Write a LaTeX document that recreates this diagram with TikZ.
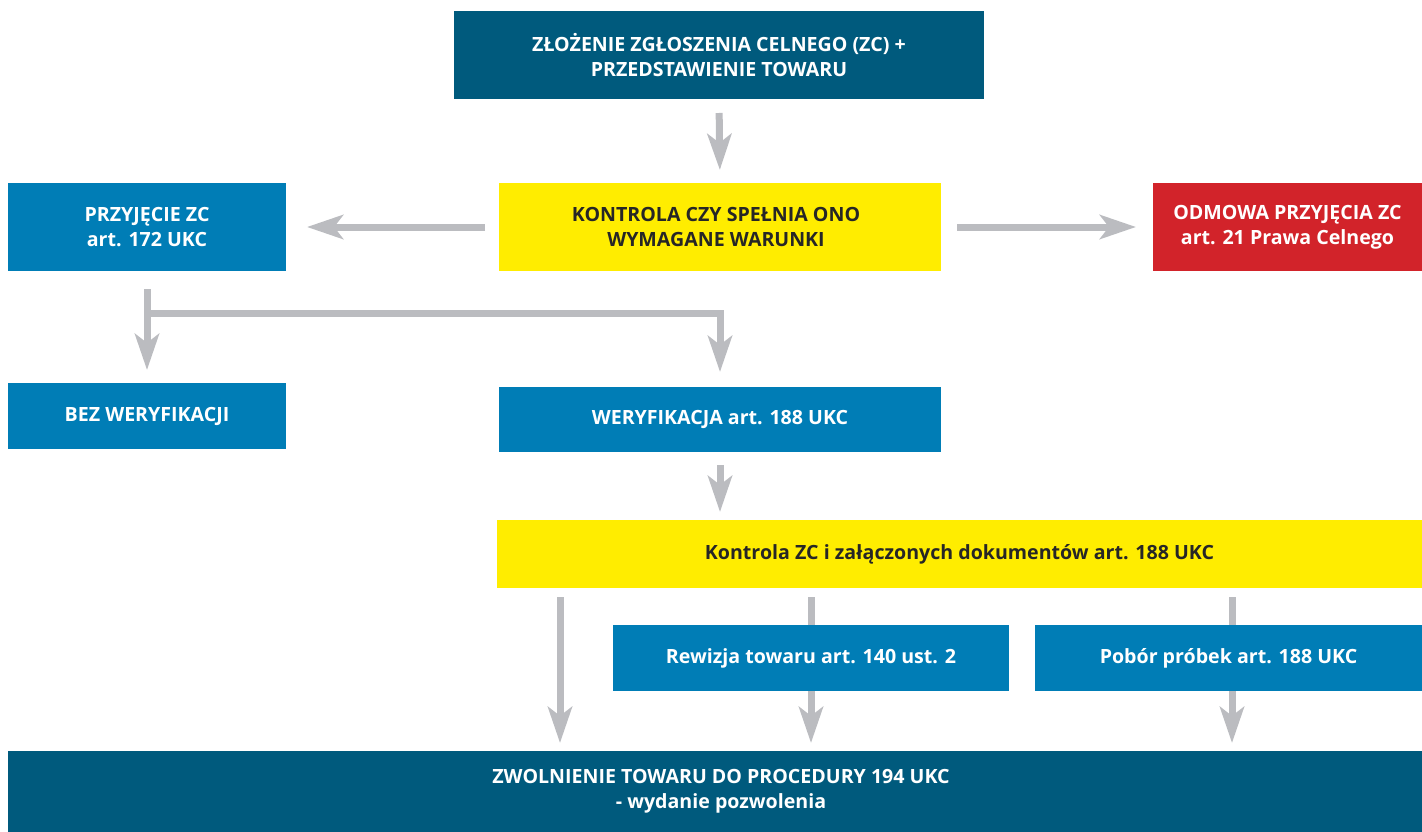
\documentclass[tikz,border=0pt]{standalone}
\usepackage{fontspec}
\setmainfont{Open Sans}
\usetikzlibrary{arrows.meta}
\definecolor{cdark}{RGB}{0,90,125}
\definecolor{cblue}{RGB}{0,125,182}
\definecolor{cyel}{RGB}{255,237,0}
\definecolor{cred}{RGB}{210,35,42}
\definecolor{cgray}{RGB}{187,188,192}
\tikzset{
  blk/.style={rectangle, inner sep=0pt, outer sep=0pt, align=center,
    font=\fontsize{19.6}{25}\selectfont\bfseries},
  wbox/.style={blk, text=white},
  ybox/.style={blk, fill=cyel, text=black!85},
  arr/.style={draw=cgray, line width=7pt,
    -{Stealth[length=36pt, width=24pt, inset=9pt]}},
}
\begin{document}
\begin{tikzpicture}[x=1pt,y=-1pt]
\useasboundingbox (0,0) rectangle (1422,832);
\coordinate (d1) at (560,597);
\coordinate (d2) at (811,597);
\coordinate (d3) at (1232,597);
\node[wbox, fill=cdark, minimum width=530pt, minimum height=88pt] (zc) at (719,55)
  {ZŁOŻENIE ZGŁOSZENIA CELNEGO (ZC) +\\PRZEDSTAWIENIE TOWARU};
\node[wbox, fill=cblue, minimum width=278pt, minimum height=88pt] (prz) at (147,227)
  {PRZYJĘCIE ZC\\art. 172 UKC};
\node[ybox, minimum width=442pt, minimum height=88pt] (kon) at (720,227)
  {\hspace*{-8pt}KONTROLA CZY SPEŁNIA ONO\\\hspace*{-8pt}WYMAGANE WARUNKI};
\node[wbox, fill=cred, minimum width=269pt, minimum height=88pt] (odm) at (1287.5,227)
  {ODMOWA PRZYJĘCIA ZC\\art. 21 Prawa Celnego};
\node[wbox, fill=cblue, minimum width=278pt, minimum height=66pt] (bez) at (147,416)
  {BEZ WERYFIKACJI};
\node[wbox, fill=cblue, minimum width=442pt, minimum height=65pt] (wer) at (720,419.5)
  {WERYFIKACJA art. 188 UKC};
\node[ybox, minimum width=925pt, minimum height=68pt] (kzc) at (959.5,554)
  {Kontrola ZC i załączonych dokumentów art. 188 UKC};
\node[wbox, fill=cdark, minimum width=1414pt, minimum height=81pt] (zw) at (715,791.5)
  {\hspace*{12pt}ZWOLNIENIE TOWARU DO PROCEDURY 194 UKC\\\hspace*{12pt}- wydanie pozwolenia};
\draw[arr, shorten <=14pt, shorten >=13pt] (zc.south) -- (kon.north);
\draw[arr, shorten <=14pt, shorten >=21pt] (kon.west) -- (prz.east);
\draw[arr, shorten <=16pt, shorten >=17pt] (kon.east) -- (odm.west);
\draw[arr, shorten <=18pt, shorten >=13pt] (prz.south) -- (bez.north);
\draw[arr, shorten >=15pt] (prz.south |- 0,313) -| (wer.north);
\draw[arr, shorten <=13pt, shorten >=8pt] (wer.south) -- (kzc.north -| wer.south);
\draw[arr, shorten >=8pt] (d1) -- (d1 |- zw.north);
\draw[arr, shorten >=8pt] (d3) -- (d3 |- zw.north);
\draw[arr, shorten >=8pt] (d2) -- (d2 |- zw.north);
\node[wbox, fill=cblue, minimum width=396pt, minimum height=66pt] (rew) at (811,658)
  {Rewizja towaru art. 140 ust. 2};
\node[wbox, fill=cblue, minimum width=387pt, minimum height=66pt] (pob) at (1228.5,658)
  {Pobór próbek art. 188 UKC};
\end{tikzpicture}
\end{document}
